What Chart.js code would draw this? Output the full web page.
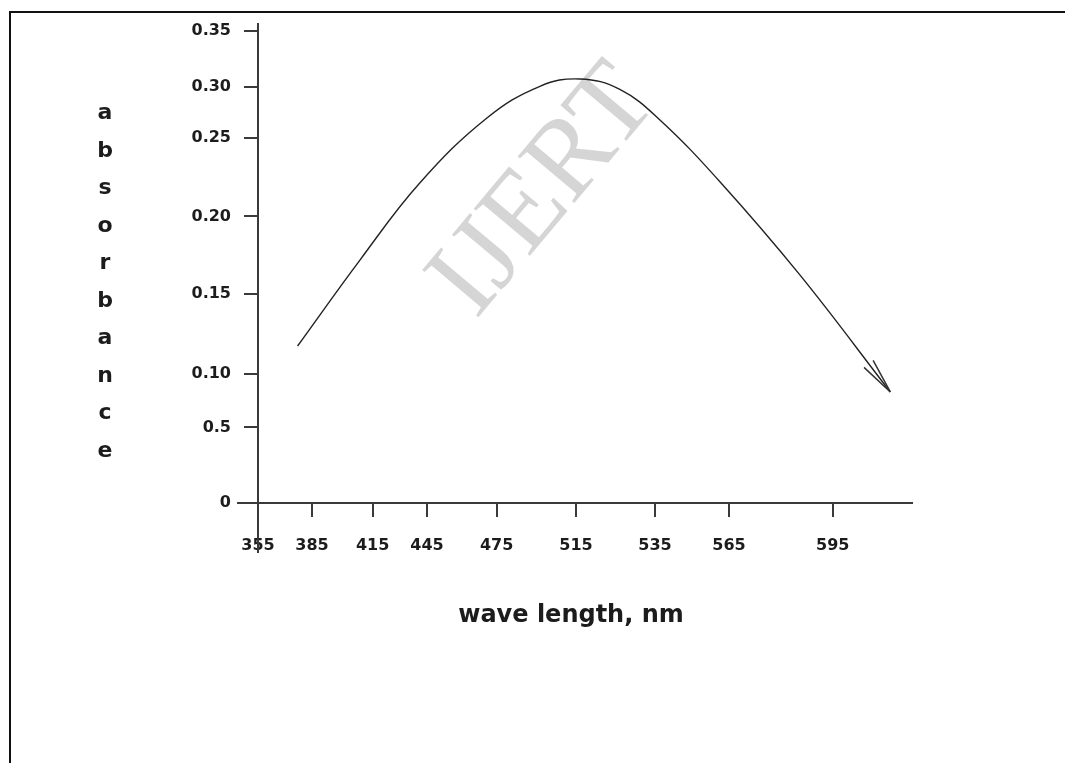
<!DOCTYPE html>
<html>
<head>
<meta charset="utf-8">
<title>absorbance</title>
<script src="https://cdn.jsdelivr.net/npm/chart.js@4.4.1/dist/chart.umd.min.js"></script>
<style>
  html, body { margin: 0; padding: 0; background: #fff; }
  #wrap { width: 1065px; height: 763px; }
</style>
</head>
<body>
<div id="wrap"><canvas id="absorbance-chart" width="1065" height="763"></canvas></div>
<script>
// values
var wavelength = [377, 408.7, 441, 470.8, 496.8, 516, 526.1, 537, 561.4, 585.5, 611.5];
var absorbance = [0.1175, 0.1719, 0.2213, 0.2694, 0.3002, 0.3068, 0.2972, 0.2675, 0.222, 0.1623, 0.0832];

var xTickValues = [355, 385, 415, 445, 475, 515, 535, 565, 595];
var xTickLabels = ["355", "385", "415", "445", "475", "515", "535", "565", "595"];
var yTickValues = [0, 0.05, 0.10, 0.15, 0.20, 0.25, 0.30, 0.35];
var yTickLabels = ["0", "0.5", "0.10", "0.15", "0.20", "0.25", "0.30", "0.35"];

var xTitle = "wave length, nm";
var yTitle = "absorbance";
var watermark = "IJERT";

// the axes in the original are drawn by hand and the ticks are not evenly
// spaced, so each axis maps value -> fraction of its length piece by piece
var xStops = [[355, 0], [385, 0.0824], [415, 0.1751], [445, 0.2580], [475, 0.3644],
              [515, 0.4855], [535, 0.6061], [565, 0.7191], [595, 0.8774], [618, 1]];
var yStops = [[0, 0], [0.05, 0.1600], [0.10, 0.2733], [0.15, 0.4428], [0.20, 0.6070],
              [0.25, 0.7733], [0.30, 0.8824], [0.35, 1]];

class PiecewiseScale extends Chart.LinearScale {
    getPixelForValue(value) {
        var s = this.options.stops;
        var i = 1;
        while (i < s.length - 1 && value > s[i][0]) i++;
        var f = s[i - 1][1] + (value - s[i - 1][0]) / (s[i][0] - s[i - 1][0]) * (s[i][1] - s[i - 1][1]);
        return this.getPixelForDecimal(f);
    }
    getValueForPixel(pixel) {
        var s = this.options.stops;
        var f = this.getDecimalForPixel(pixel);
        var i = 1;
        while (i < s.length - 1 && f > s[i][1]) i++;
        return s[i - 1][0] + (f - s[i - 1][1]) / (s[i][1] - s[i - 1][1]) * (s[i][0] - s[i - 1][0]);
    }
}
PiecewiseScale.id = "piecewise";
PiecewiseScale.defaults = Chart.LinearScale.defaults;
Chart.register(PiecewiseScale);

var ink = "#1c1c1c";
var labelFont = {family: "DejaVu Sans", weight: "bold", size: 16};

// frame, watermark, hand drawn axis lines, titles, arrow head
var decorations = {
    id: "decorations",
    beforeDraw: function(chart) {
        var ctx = chart.ctx;
        ctx.save();
        ctx.fillStyle = "#fff";
        ctx.fillRect(0, 0, chart.width, chart.height);
        ctx.fillStyle = "#111";
        ctx.fillRect(9, 11, chart.width - 9, 2);
        ctx.fillRect(9, 11, 2, chart.height - 11);
        ctx.restore();
    },
    beforeDatasetsDraw: function(chart) {
        var ctx = chart.ctx;
        ctx.save();
        ctx.translate(545, 192);
        ctx.rotate(-50 * Math.PI / 180);
        ctx.font = "112px 'Liberation Serif'";
        ctx.fillStyle = "#d5d5d5";
        ctx.textAlign = "center";
        ctx.textBaseline = "middle";
        ctx.fillText(watermark, 0, 0);
        ctx.restore();
    },
    afterDraw: function(chart) {
        var ctx = chart.ctx;
        var area = chart.chartArea;
        var x0 = chart.scales.x.getPixelForValue(355);
        var y0 = chart.scales.y.getPixelForValue(0);
        ctx.save();
        ctx.strokeStyle = "#3a3a3a";
        ctx.lineWidth = 2;
        ctx.beginPath();
        ctx.moveTo(x0, area.top - 8);
        ctx.lineTo(x0, area.bottom + 50);
        ctx.moveTo(area.left - 21, y0);
        ctx.lineTo(area.right, y0);
        ctx.stroke();

        // arrow head at the end of the curve
        var pts = chart.getDatasetMeta(0).data;
        var tip = pts[pts.length - 1];
        var ang = Math.atan2(tip.cp1y - tip.y, tip.cp1x - tip.x);
        ctx.strokeStyle = "#333";
        ctx.lineWidth = 1.5;
        ctx.beginPath();
        [-0.16, 0.16].forEach(function(d) {
            ctx.moveTo(tip.x, tip.y);
            ctx.lineTo(tip.x + 36 * Math.cos(ang + d), tip.y + 36 * Math.sin(ang + d));
        });
        ctx.stroke();

        // titles
        ctx.fillStyle = ink;
        ctx.textAlign = "center";
        ctx.textBaseline = "alphabetic";
        ctx.font = "bold 24px 'DejaVu Sans'";
        ctx.fillText(xTitle, 571, 622);
        ctx.font = "bold 22px 'DejaVu Sans'";
        yTitle.split("").forEach(function(ch, i) {
            ctx.fillText(ch, 105, 119 + 37.5 * i);
        });
        ctx.restore();
    }
};

var ctx = document.getElementById("absorbance-chart");
var chart = new Chart(ctx, {
    type: "line",
    data: {
        datasets: [{
            data: wavelength.map(function(w, i) { return {x: w, y: absorbance[i]}; }),
            borderColor: "#222",
            borderWidth: 1.4,
            pointRadius: 0,
            fill: false,
            tension: 0.4
        }]
    },
    options: {
        responsive: false,
        animation: false,
        layout: {padding: {left: 0, right: 152, top: 31, bottom: 0}},
        plugins: {legend: {display: false}, tooltip: {enabled: false}},
        scales: {
            x: {
                type: "piecewise",
                stops: xStops,
                min: 355,
                max: 618,
                afterBuildTicks: function(scale) {
                    scale.ticks = xTickValues.map(function(v) { return {value: v}; });
                },
                afterFit: function(scale) { scale.height = 260; },
                border: {display: false},
                grid: {drawOnChartArea: false, drawTicks: true, tickLength: 14, color: "#3a3a3a", lineWidth: 2},
                ticks: {
                    autoSkip: false, maxRotation: 0, padding: 19, color: ink, font: labelFont,
                    callback: function(v, i) { return xTickLabels[i]; }
                }
            },
            y: {
                type: "piecewise",
                stops: yStops,
                min: 0,
                max: 0.35,
                afterBuildTicks: function(scale) {
                    scale.ticks = yTickValues.map(function(v) { return {value: v}; });
                },
                afterFit: function(scale) { scale.width = 258; },
                border: {display: false},
                grid: {drawOnChartArea: false, drawTicks: true, tickLength: 14, color: "#3a3a3a", lineWidth: 2},
                ticks: {
                    autoSkip: false, padding: 13, color: ink, font: labelFont,
                    callback: function(v, i) { return yTickLabels[i]; }
                }
            }
        }
    },
    plugins: [decorations]
});
</script>
</body>
</html>
